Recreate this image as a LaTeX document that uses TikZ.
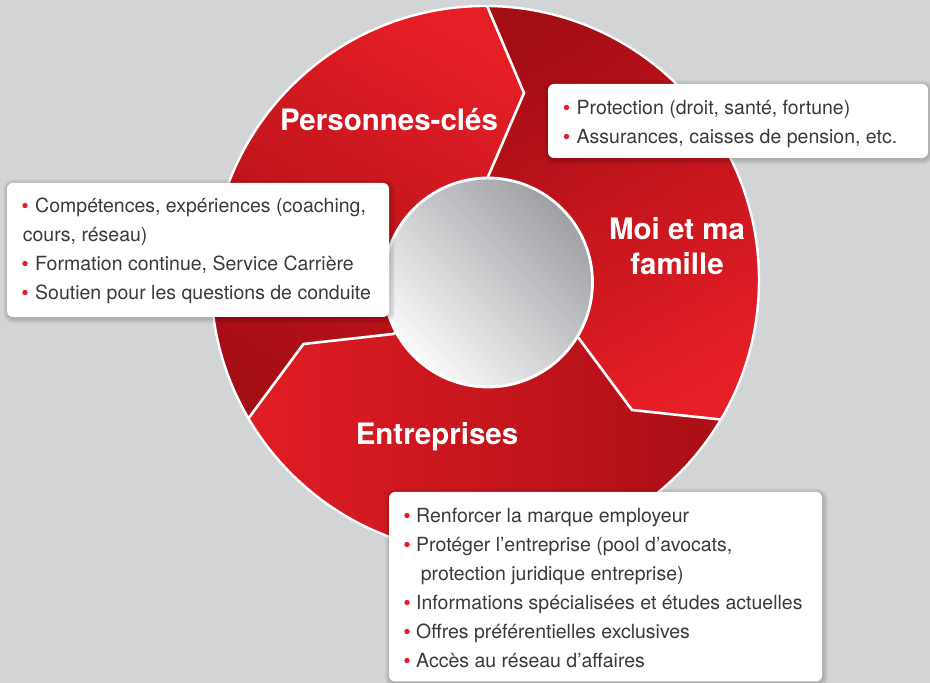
\documentclass[tikz,border=0pt]{standalone}
\usepackage{fontspec}
\setmainfont{TeX Gyre Heros}
\definecolor{bgc}{RGB}{211,212,214}
\definecolor{redhi}{RGB}{230,30,38}
\definecolor{redlo}{RGB}{165,13,21}
\definecolor{innerdark}{RGB}{158,160,164}
\definecolor{innerlight}{RGB}{250,250,250}
\definecolor{txt}{RGB}{58,58,58}
\definecolor{bulred}{RGB}{228,28,36}
\newcommand\softbox[4]{%
  \foreach \s in {1,...,5} {\fill[black, opacity=0.035, rounded corners={6+\s}] ({#1-\s+1},{#2-\s-1.5}) rectangle ({#3+\s+1},{#4+\s-1.5});}
  \fill[white, rounded corners=6] (#1,#2) rectangle (#3,#4);}
\begin{document}
\begin{tikzpicture}[x=1pt,y=1pt,
  bodytxt/.style={anchor=base west, inner sep=0pt, text=txt, font=\fontsize{19.5}{23}\selectfont},
  ttl/.style={anchor=base, inner sep=0pt, text=white, font=\fontsize{29.5}{34}\selectfont\bfseries},
  divider/.style={white, line width=2.6pt, line join=miter}]
\useasboundingbox (0,0) rectangle (930,683);
\begin{scope}
\clip (0,0) rectangle (930,683);
\fill[bgc] (0,0) rectangle (930,683);
% centres
\coordinate (C) at (485,403);
\coordinate (c) at (488,400.5);
% divider points
\coordinate (O1) at (487.5,676); \coordinate (T1) at (524,590); \coordinate (I1) at (487.5,505);
\coordinate (O2) at (725,263);   \coordinate (T2) at (632,273); \coordinate (I2) at (578.6,345);
\coordinate (O3) at (248,264);   \coordinate (T3) at (303.5,339); \coordinate (I3) at (393,349);
\coordinate (F1) at (428.8,814); \coordinate (F2) at (874,247); \coordinate (F3) at (159,143);
\coordinate (MP) at (9,678); \coordinate (MM) at (961,678); \coordinate (ME) at (485,-147);
% Personnes-cles segment
\begin{scope}
\clip (C) circle (274);
\clip (c) -- (I3) -- (T3) -- (O3) -- (F3) -- (MP) -- (F1) -- (O1) -- (T1) -- (I1) -- cycle;
\shade[top color=redhi, bottom color=redlo, shading angle=-30] (205,255) rectangle (530,685);
\end{scope}
% Moi et ma famille segment
\begin{scope}
\clip (C) circle (274);
\clip (c) -- (I1) -- (T1) -- (O1) -- (F1) -- (MM) -- (F2) -- (O2) -- (T2) -- (I2) -- cycle;
\shade[top color=redhi, bottom color=redlo, shading angle=-150] (480,255) rectangle (765,685);
\end{scope}
% Entreprises segment
\begin{scope}
\clip (C) circle (274);
\clip (c) -- (I2) -- (T2) -- (O2) -- (F2) -- (ME) -- (F3) -- (O3) -- (T3) -- (I3) -- cycle;
\shade[top color=redhi, bottom color=redlo, shading angle=90] (205,125) rectangle (765,350);
\end{scope}
% dividers
\begin{scope}
\clip (C) circle (274);
\draw[divider] (F1) -- (O1) -- (T1) -- (I1) -- (c);
\draw[divider] (F2) -- (O2) -- (T2) -- (I2) -- (c);
\draw[divider] (F3) -- (O3) -- (T3) -- (I3) -- (c);
\end{scope}
\draw[white, line width=2.4pt] (C) circle (274);
% inner circle
\shade[top color=innerdark, bottom color=innerlight, shading angle=-45] (c) circle (104.5);
\draw[white, line width=2.8pt] (c) circle (104.5);
% titles
\node[ttl] (tP) at (389,552) {Personnes-clés};
\node[ttl] (tM1) at (677,443) {Moi et ma};
\node[ttl] (tM2) at (677,408) {famille};
\node[ttl] (tE) at (437,238) {Entreprises};
% box top right
\softbox{548}{525}{928}{599}
\fill[bulred] (566.5,575.5) circle (2.7);
\node[bodytxt] (b1a) at (576.5,568) {Protection (droit, santé, fortune)};
\fill[bulred] (566.5,546.5) circle (2.7);
\node[bodytxt] (b1b) at (576.5,539) {Assurances, caisses de pension, etc.};
% box left
\softbox{7}{366}{389}{500}
\fill[bulred] (25,477.5) circle (2.7);
\node[bodytxt] (b2a) at (35,470) {Compétences, expériences (coaching,};
\node[bodytxt] (b2b) at (22.7,441) {cours, réseau)};
\fill[bulred] (25,419.5) circle (2.7);
\node[bodytxt] (b2c) at (35,412) {Formation continue, Service Carrière};
\fill[bulred] (25,390.5) circle (2.7);
\node[bodytxt] (b2d) at (35,383) {Soutien pour les questions de conduite};
% box bottom
\softbox{389}{1.5}{822}{191}
\fill[bulred] (407,167.5) circle (2.7);
\node[bodytxt] (b3a) at (416,160) {Renforcer la marque employeur};
\fill[bulred] (407,138.5) circle (2.7);
\node[bodytxt] (b3b) at (416,131) {Protéger l’entreprise (pool d’avocats,};
\node[bodytxt] (b3c) at (420.7,102) {protection juridique entreprise)};
\fill[bulred] (407,80.5) circle (2.7);
\node[bodytxt] (b3d) at (416,73) {Informations spécialisées et études actuelles};
\fill[bulred] (407,51.5) circle (2.7);
\node[bodytxt] (b3e) at (416,44) {Offres préférentielles exclusives};
\fill[bulred] (407,22.5) circle (2.7);
\node[bodytxt] (b3f) at (416,15) {Accès au réseau d’affaires};
\end{scope}
\end{tikzpicture}
\end{document}
